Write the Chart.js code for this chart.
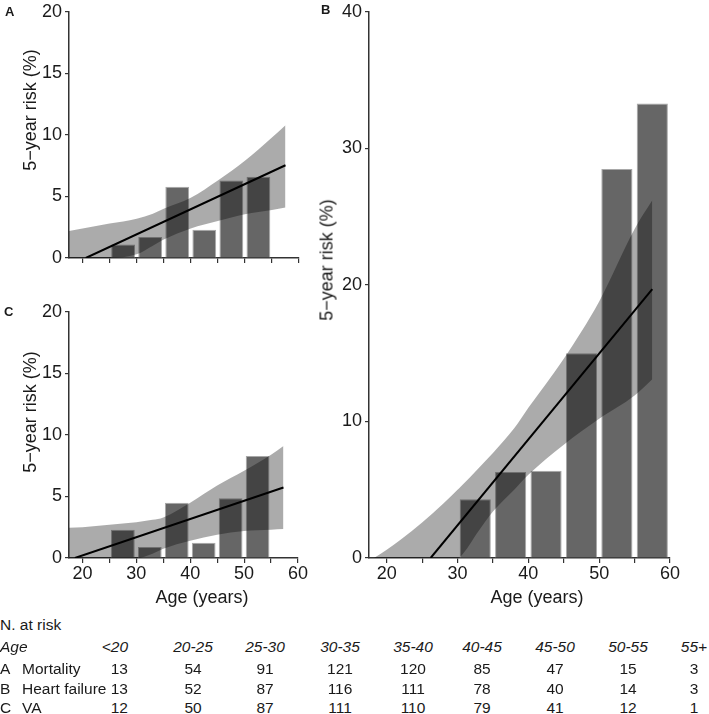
<!DOCTYPE html>
<html>
<head>
<meta charset="utf-8">
<script src="https://cdn.jsdelivr.net/npm/chart.js@4.4.1/dist/chart.umd.min.js"></script>
<style>
  body { margin: 0; background: #fff; }
  #page { position: relative; width: 709px; height: 714px; overflow: hidden;
          font-family: "Liberation Sans", Arial, sans-serif; color: #1a1a1a; }
  canvas { position: absolute; }
  .letter { position: absolute; font-weight: bold; font-size: 13px; }
  .title { position: absolute; font-size: 18px; white-space: nowrap; transform: translate(-50%, -50%); }
  .title.rot { transform: translate(-50%, -50%) rotate(-90deg); }
  .cell { position: absolute; font-size: 15.5px; white-space: nowrap; transform: translateY(-50%); }
</style>
</head>
<body>
<div id="page">
  <canvas id="chartA" width="310" height="270" style="left:0;top:0"></canvas>
  <canvas id="chartC" width="310" height="312" style="left:0;top:300px"></canvas>
  <canvas id="chartB" width="409" height="612" style="left:300px;top:0"></canvas>

  <div class="letter" style="left:5px;top:4px">A</div>
  <div class="letter" style="left:321px;top:2px">B</div>
  <div class="letter" style="left:4px;top:304px">C</div>

  <div class="title rot" style="left:30px;top:110px">5−year risk (%)</div>
  <div class="title rot" style="left:327px;top:260px">5−year risk (%)</div>
  <div class="title rot" style="left:30px;top:412px">5−year risk (%)</div>
  <div class="title" style="left:202px;top:597px">Age (years)</div>
  <div class="title" style="left:537px;top:597px">Age (years)</div>

  <div id="table"></div>
</div>

<script>
// x axis ticks (years)
const ageTicks = [20, 25, 30, 35, 40, 45, 50, 55, 60];

// observed 5-year risk per 5-year age group (%)
const barAgesAC = [27.5, 32.5, 37.5, 42.5, 47.5, 52.5];
const barAgesB = [32.5, 37.5, 42.5, 47.5, 52.5, 57.5];
const riskA = [1.1, 1.7, 5.8, 2.3, 6.3, 6.6];
const riskB = [4.3, 6.3, 6.4, 15.0, 28.5, 33.3];
const riskC = [2.3, 0.9, 4.5, 1.25, 4.85, 8.3];

// fitted lines
const fitAgesA = [20.6, 57.5];
const fitRiskA = [0, 7.54];
const fitAgesB = [26.2, 57.5];
const fitRiskB = [0, 19.7];
const fitAgesC = [18.6, 57.3];
const fitRiskC = [0, 5.73];

// confidence bands
const bandAgesA = [17.5, 20, 25, 30, 33, 35, 40, 45, 50, 55, 57.5];
const upperA = [2.2, 2.4, 2.8, 3.2, 3.6, 4.0, 4.9, 6.3, 7.9, 9.8, 10.8];
const lowerA = [0, 0, 0, 0.3, 1.0, 1.5, 2.4, 3.0, 3.55, 3.9, 4.1];

const bandAgesB = [18.2, 20, 22, 25, 28, 30, 30.4, 33, 35, 38, 40, 45, 50, 55, 57.5];
const upperB = [0, 0.6, 1.35, 2.6, 4.0, 5.0, 5.2, 6.6, 7.7, 9.5, 11.0, 14.6, 18.8, 24.1, 26.2];
const lowerB = [0, 0, 0, 0, 0, 0, 0.1, 2.0, 3.4, 5.0, 6.1, 8.3, 10.2, 11.9, 13.1];

const bandAgesC = [17.5, 20, 25, 30, 33, 35, 40, 45, 50, 55, 57.3];
const upperC = [2.45, 2.5, 2.7, 2.9, 3.1, 3.3, 4.5, 5.9, 7.1, 8.4, 9.1];
const lowerC = [0, 0, 0, 0, 0.35, 0.75, 1.4, 1.9, 2.2, 2.3, 2.35];

// numbers at risk
const ageGroups = ['<20', '20-25', '25-30', '30-35', '35-40', '40-45', '45-50', '50-55', '55+'];
const atRiskA = [13, 54, 91, 121, 120, 85, 47, 15, 3];
const atRiskB = [13, 52, 87, 116, 111, 78, 40, 14, 3];
const atRiskC = [12, 50, 87, 111, 110, 79, 41, 12, 1];

const FONT = '"Liberation Sans", Arial, sans-serif';
const axisColor = '#333';

function pts(xs, ys) {
  return xs.map((x, i) => ({ x: x, y: ys[i] }));
}

function makePanel(id, p) {
  const ctx = document.getElementById(id).getContext('2d');
  return new Chart(ctx, {
    type: 'bar',
    data: {
      datasets: [
        {
          type: 'line',
          data: pts(p.fitAges, p.fitRisk),
          borderColor: '#000',
          borderWidth: 2,
          pointRadius: 0,
          fill: false,
          order: 1
        },
        {
          type: 'line',
          data: pts(p.bandAges, p.upper),
          borderWidth: 0,
          pointRadius: 0,
          backgroundColor: 'rgba(0,0,0,0.33)',
          fill: '+1',
          tension: 0.4,
          cubicInterpolationMode: 'monotone',
          order: 2
        },
        {
          type: 'line',
          data: pts(p.bandAges, p.lower),
          borderWidth: 0,
          pointRadius: 0,
          fill: false,
          tension: 0.4,
          cubicInterpolationMode: 'monotone',
          order: 2
        },
        {
          type: 'bar',
          data: pts(p.barAges, p.risk),
          backgroundColor: '#666',
          borderColor: '#a8a8a8',
          borderWidth: 1,
          categoryPercentage: 1,
          barPercentage: 0.88,
          order: 3
        }
      ]
    },
    options: {
      responsive: false,
      animation: false,
      layout: { padding: p.padding },
      plugins: { legend: { display: false }, tooltip: { enabled: false } },
      scales: {
        x: {
          type: 'linear',
          min: 17.5,
          max: 60,
          offset: false,
          afterBuildTicks: (s) => { s.ticks = ageTicks.map(v => ({ value: v })); },
          afterFit: (s) => { s.height = p.xHeight; },
          ticks: {
            display: p.xLabels,
            autoSkip: false,
            maxRotation: 0,
            padding: 2,
            color: '#1a1a1a',
            font: { family: FONT, size: 18, lineHeight: 1 },
            callback: (v) => (v % 10 === 0 ? v : '')
          },
          grid: { offset: false, drawOnChartArea: false, drawTicks: true, tickLength: 5, color: axisColor, lineWidth: 1.2 },
          border: { color: axisColor, width: 1.5 }
        },
        y: {
          min: 0,
          max: p.yMax,
          afterBuildTicks: (s) => {
            const t = [];
            for (let v = 0; v <= p.yMax; v += p.yStep) t.push({ value: v });
            s.ticks = t;
          },
          afterFit: (s) => { s.width = 69; },
          ticks: {
            padding: 3,
            color: '#1a1a1a',
            font: { family: FONT, size: 18, lineHeight: 1 }
          },
          grid: { drawOnChartArea: false, drawTicks: true, tickLength: 4, color: axisColor, lineWidth: 1.2 },
          border: { color: axisColor, width: 1.5 }
        }
      }
    }
  });
}

makePanel('chartA', {
  barAges: barAgesAC, risk: riskA, fitAges: fitAgesA, fitRisk: fitRiskA,
  bandAges: bandAgesA, upper: upperA, lower: lowerA,
  yMax: 20, yStep: 5, xLabels: false, xHeight: 12,
  padding: { top: 9, right: 11, left: 0, bottom: 0 }
});

makePanel('chartC', {
  barAges: barAgesAC, risk: riskC, fitAges: fitAgesC, fitRisk: fitRiskC,
  bandAges: bandAgesC, upper: upperC, lower: lowerC,
  yMax: 20, yStep: 5, xLabels: true, xHeight: 54,
  padding: { top: 10, right: 11, left: 0, bottom: 0 }
});

makePanel('chartB', {
  barAges: barAgesB, risk: riskB, fitAges: fitAgesB, fitRisk: fitRiskB,
  bandAges: bandAgesB, upper: upperB, lower: lowerB,
  yMax: 40, yStep: 10, xLabels: true, xHeight: 54,
  padding: { top: 9, right: 39, left: 0, bottom: 0 }
});

// N. at risk table
const colCenters = [117, 193, 265, 340, 413, 482, 555, 628, 694];
const table = document.getElementById('table');

function addCell(text, x, y, align, italic) {
  const d = document.createElement('div');
  d.className = 'cell';
  d.textContent = text;
  d.style.top = y + 'px';
  if (italic) d.style.fontStyle = 'italic';
  if (align === 'left') {
    d.style.left = x + 'px';
  } else if (align === 'right') {
    d.style.left = x + 'px';
    d.style.transform = 'translate(-100%, -50%)';
  } else {
    d.style.left = x + 'px';
    d.style.transform = 'translate(-50%, -50%)';
  }
  table.appendChild(d);
}

addCell('N. at risk', 0, 625, 'left', false);
addCell('Age', 0, 647, 'left', true);
ageGroups.forEach((g, i) => {
  if (i === 0) addCell(g, 128, 647, 'right', true);
  else addCell(g, colCenters[i], 647, 'center', true);
});

const rows = [
  ['A', 'Mortality', atRiskA, 669],
  ['B', 'Heart failure', atRiskB, 689],
  ['C', 'VA', atRiskC, 708]
];
rows.forEach(r => {
  addCell(r[0], 0, r[3], 'left', false);
  addCell(r[1], 22, r[3], 'left', false);
  r[2].forEach((n, i) => {
    if (i === 0) addCell(n, 128, r[3], 'right', false);
    else addCell(n, colCenters[i], r[3], 'center', false);
  });
});
</script>
</body>
</html>
